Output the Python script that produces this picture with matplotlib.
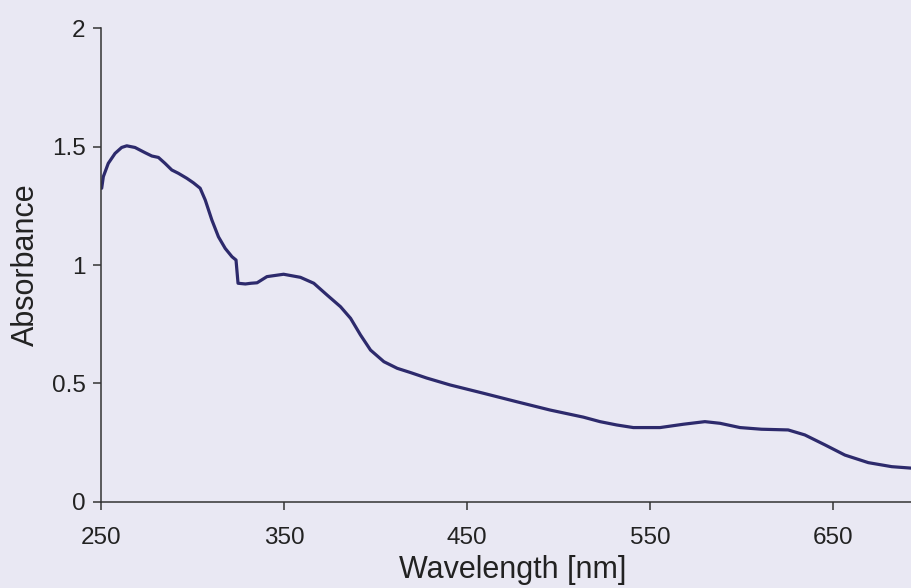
import matplotlib
matplotlib.use("Agg")
import matplotlib.pyplot as plt

# Spectrum
wavelength = [250.4, 251.3, 254, 257.7, 261.3, 264.1, 268.6, 274.1, 277.8, 281.4,
              285, 288.7, 292.3, 296.9, 300.5, 304.2, 307, 310.6, 314.2, 317.9,
              321.6, 323.8, 324.9, 328.9, 332, 335.3, 340.7, 349.8, 359, 366.3,
              373.6, 380.9, 386.4, 391.8, 397.3, 404.6, 411.9, 419.2, 428, 440.7,
              458.9, 477.2, 495.4, 513.6, 522.7, 531.8, 540.9, 555.5, 568.2, 580,
              588.3, 599.2, 610.9, 625.5, 634.6, 645.6, 656.5, 669.3, 682.1, 694.2,
              700]
absorbance = [1.324, 1.373, 1.429, 1.471, 1.496, 1.503, 1.496, 1.474, 1.460, 1.454,
              1.429, 1.401, 1.387, 1.366, 1.347, 1.324, 1.274, 1.190, 1.119, 1.070,
              1.035, 1.021, 0.923, 0.920, 0.923, 0.925, 0.951, 0.961, 0.948, 0.923,
              0.873, 0.824, 0.775, 0.705, 0.641, 0.592, 0.564, 0.546, 0.523, 0.494,
              0.459, 0.423, 0.388, 0.358, 0.339, 0.325, 0.314, 0.314, 0.328, 0.339,
              0.332, 0.314, 0.307, 0.304, 0.283, 0.241, 0.198, 0.166, 0.149, 0.142,
              0.138]

x_ticks = [250, 350, 450, 550, 650]
y_ticks = [0, 0.5, 1, 1.5, 2]
y_tick_labels = ["0", "0.5", "1", "1.5", "2"]

bg = "#e9e8f3"
plt.rcParams['font.family'] = ['Liberation Sans', 'DejaVu Sans']

fig = plt.figure(figsize=(9.12, 5.88), dpi=100, facecolor=bg)
ax = fig.add_axes([0.1107, 0.1463, 0.903, 0.806], facecolor=bg)

ax.plot(wavelength, absorbance, color="#2d2a6c", linewidth=2.3,
        solid_joinstyle="round", solid_capstyle="round")

ax.set_xlim(250, 700)
ax.set_ylim(0, 2)
ax.set_xticks(x_ticks)
ax.set_yticks(y_ticks)
ax.set_yticklabels(y_tick_labels)

ax.spines['top'].set_visible(False)
ax.spines['right'].set_visible(False)
for side in ['left', 'bottom']:
    ax.spines[side].set_color("#333333")
    ax.spines[side].set_linewidth(1.1)

ax.tick_params(axis='both', direction='out', length=6, width=1.1,
               color="#333333", labelcolor="#222222", labelsize=17.5)
ax.tick_params(axis='x', pad=12)
ax.tick_params(axis='y', pad=5)

ax.set_xlabel("Wavelength [nm]", fontsize=22, color="#222222", labelpad=4)
ax.set_ylabel("Absorbance", fontsize=22, color="#222222", labelpad=8)

fig.savefig("out.png", dpi=100, facecolor=bg)
